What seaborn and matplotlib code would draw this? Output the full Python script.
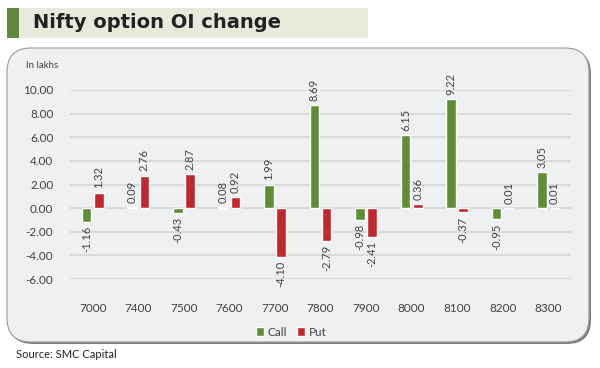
import matplotlib
matplotlib.use("Agg")
import matplotlib.pyplot as plt
import pandas as pd
import seaborn as sns
from matplotlib.patches import FancyBboxPatch, Rectangle

strikes = ["7000", "7400", "7500", "7600", "7700", "7800", "7900", "8000", "8100", "8200", "8300"]
call_oi = [-1.16, 0.09, -0.43, 0.08, 1.99, 8.69, -0.98, 6.15, 9.22, -0.95, 3.05]
put_oi = [1.32, 2.76, 2.87, 0.92, -4.10, -2.79, -2.41, 0.36, -0.37, 0.01, 0.01]
y_ticks = [-6, -4, -2, 0, 2, 4, 6, 8, 10]

GREEN = "#5e8e36"
RED = "#c1272d"
PANEL = "#eff0f2"
TEXT = "#404040"

sns.set_theme(style="white")
plt.rcParams["font.family"] = ["Lato", "DejaVu Sans"]

df = pd.DataFrame({
    "strike": strikes * 2,
    "oi": call_oi + put_oi,
    "type": ["Call"] * len(strikes) + ["Put"] * len(strikes),
})

fig = plt.figure(figsize=(6, 3.68), dpi=100)
fig.patch.set_facecolor("white")

# title banner
fig.patches.append(Rectangle((7 / 600, 1 - 38 / 368), 361 / 600, 30 / 368,
                             transform=fig.transFigure, facecolor="#e9eadb", edgecolor="none",
                             zorder=-5))
fig.patches.append(Rectangle((7 / 600, 1 - 38 / 368), 12 / 600, 30 / 368,
                             transform=fig.transFigure, facecolor="#5f8a3d", edgecolor="none",
                             zorder=-5))
fig.text(33 / 600, 1 - 23 / 368, "Nifty option OI change", family="DejaVu Sans",
         fontsize=14, fontweight="bold", color="#222222", va="center", ha="left")

# rounded chart panel with shadow
fig.patches.append(FancyBboxPatch((9 / 600, 1 - 344 / 368), 582 / 600, 294 / 368,
                                  boxstyle="round,pad=0,rounding_size=0.04",
                                  transform=fig.transFigure, facecolor="#7e7e7e",
                                  edgecolor="none", mutation_aspect=600 / 368, zorder=-5))
fig.patches.append(FancyBboxPatch((7 / 600, 1 - 342 / 368), 582 / 600, 294 / 368,
                                  boxstyle="round,pad=0,rounding_size=0.04",
                                  transform=fig.transFigure, facecolor=PANEL,
                                  edgecolor="#9a9a9a", linewidth=0.8, mutation_aspect=600 / 368,
                                  zorder=-4))

ax = fig.add_axes([70 / 600, 1 - 279 / 368, 501 / 600, 189 / 368])
ax.set_facecolor("none")
ax.set_zorder(2)

sns.barplot(data=df, x="strike", y="oi", hue="type", palette=[GREEN, RED],
            width=0.54, gap=0.22, ax=ax, saturation=1, legend=True)

for cont in ax.containers:
    ax.bar_label(cont, fmt="%.2f", rotation=90, padding=3, fontsize=8, color=TEXT)

ax.set_ylim(-6, 10)
ax.set_yticks(y_ticks)
ax.set_yticklabels([f"{t:.2f}" for t in y_ticks])
ax.grid(axis="y", color="#d6d8da", linewidth=1.3)
ax.set_axisbelow(True)
for s in ax.spines.values():
    s.set_visible(False)
ax.tick_params(axis="both", length=0, labelsize=8.5, colors=TEXT)
ax.tick_params(axis="x", pad=17)
ax.tick_params(axis="y", pad=12)
ax.set_xlabel("")
ax.set_ylabel("")

handles, labels = ax.get_legend_handles_labels()
ax.get_legend().remove()
fig.legend(handles, labels, loc="center", bbox_to_anchor=(0.485, 1 - 332 / 368), ncol=2,
           frameon=False, fontsize=8.5, handlelength=0.7, handleheight=0.7,
           handletextpad=0.3, columnspacing=0.8, labelcolor=TEXT)

fig.text(26 / 600, 1 - 65 / 368, "In lakhs", fontsize=7, color=TEXT, va="center")
fig.text(16 / 600, 1 - 355 / 368, "Source: SMC Capital", fontsize=8, color="#222222", va="center")

fig.savefig("out.png", dpi=100)
